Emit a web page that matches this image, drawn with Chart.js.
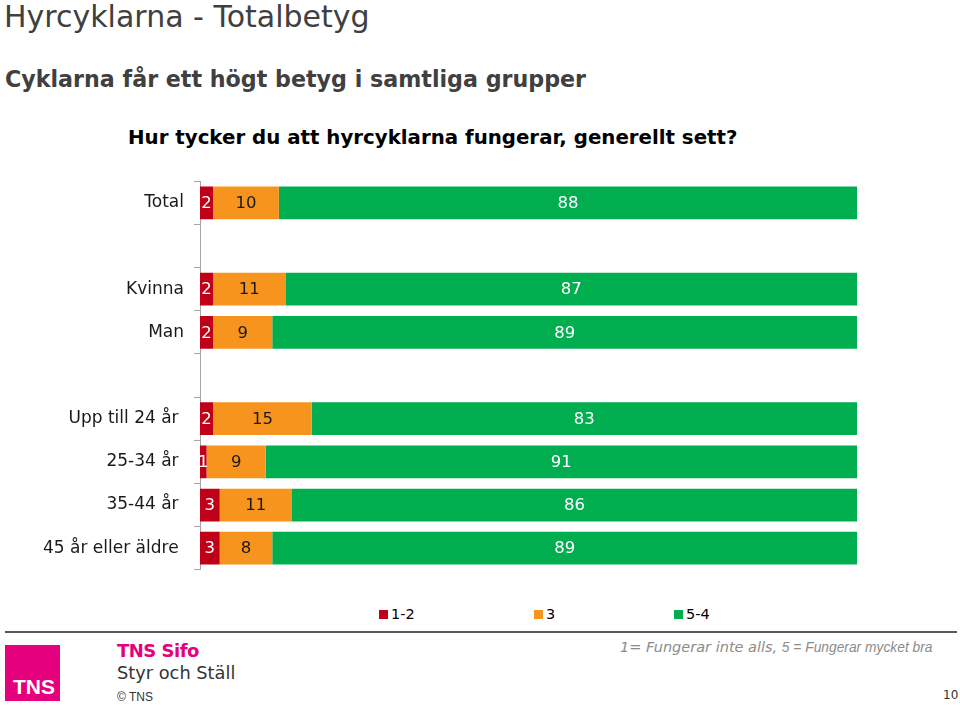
<!DOCTYPE html>
<html><head><meta charset="utf-8">
<script src="https://cdn.jsdelivr.net/npm/chart.js@4"></script>
<style>
html,body{margin:0;padding:0;background:#fff;width:960px;height:705px;overflow:hidden;position:relative;font-family:"DejaVu Sans",Verdana,sans-serif;}
.abs{position:absolute;white-space:nowrap;}
#title{left:4px;top:-1px;font-size:30px;color:#404040;}
#sub{left:5px;top:66px;font-size:22.2px;font-weight:bold;color:#404040;}
#q{left:128px;top:126px;font-size:19.8px;font-weight:bold;color:#000;}
#wrap{position:absolute;left:0;top:161px;width:960px;height:429px;}
#hr{position:absolute;left:5px;top:631px;width:952px;height:2px;background:#5a5a5a;}
#logo{position:absolute;left:5px;top:645px;width:55px;height:56px;background:#e5007d;}
#logo span{position:absolute;left:8px;bottom:2px;color:#fff;font:bold 21px "Liberation Sans",Arial,sans-serif;}
#sifo{left:117px;top:640px;font:bold 18px "DejaVu Sans",sans-serif;color:#e5007d;letter-spacing:-0.5px;}
#styr{left:117px;top:662px;font-size:17.8px;color:#333;}
#copy{left:117px;top:690px;font:12px "Liberation Sans",Arial,sans-serif;color:#333;}
#scale{left:620px;top:637px;color:#8c8c8c;font-style:italic;}
#scale .a{font-size:14.5px;font-family:"DejaVu Sans",sans-serif;}
#scale .b{font-size:13.8px;font-family:"Liberation Sans",Arial,sans-serif;}
#pg{left:943px;top:688px;font-size:12px;color:#333;}
.leg{position:absolute;top:606px;font-size:14.5px;color:#000;}
.leg i{display:inline-block;width:9px;height:9px;margin-right:3px;vertical-align:0px;}
</style></head>
<body>
<div class="abs" id="title">Hyrcyklarna - Totalbetyg</div>
<div class="abs" id="sub">Cyklarna får ett högt betyg i samtliga grupper</div>
<div class="abs" id="q">Hur tycker du att hyrcyklarna fungerar, generellt sett?</div>
<div id="wrap"><canvas id="c" width="960" height="429"></canvas></div>
<div class="leg" style="left:379px"><i style="background:#c00018"></i>1-2</div>
<div class="leg" style="left:534px"><i style="background:#f7941d"></i>3</div>
<div class="leg" style="left:674px"><i style="background:#00ae50"></i>5-4</div>
<div id="hr"></div>
<div id="logo"><span>TNS</span></div>
<div class="abs" id="sifo">TNS Sifo</div>
<div class="abs" id="styr">Styr och Ställ</div>
<div class="abs" id="copy">© TNS</div>
<div class="abs" id="scale"><span class="a">1= Fungerar inte alls, </span><span class="b">5 = Fungerar mycket bra</span></div>
<div class="abs" id="pg">10</div>
<script>
const categories = ["Total", "", "Kvinna", "Man", "", "Upp till 24 år ", "25-34 år ", "35-44 år ", "45 år eller äldre "];
const seriesNames = ["1-2", "3", "5-4"];
const low = [2, null, 2, 2, null, 2, 1, 3, 3];
const mid = [10, null, 11, 9, null, 15, 9, 11, 8];
const high = [88, null, 87, 89, null, 83, 91, 86, 89];
const colors = ["#c00018", "#f7941d", "#00ae50"];
const labelColors = ["#ffffff", "#1a1a1a", "#ffffff"];

const segLabels = {
  id: 'segLabels',
  afterDatasetsDraw(chart) {
    const ctx = chart.ctx;
    const right = chart.chartArea.right;
    chart.data.datasets.forEach((ds, di) => {
      const meta = chart.getDatasetMeta(di);
      meta.data.forEach((bar, i) => {
        const v = ds.data[i];
        if (v == null) return;
        const p = bar.getProps(['x', 'y', 'base'], true);
        const cx = (Math.min(p.x, right) + p.base) / 2;
        ctx.save();
        ctx.fillStyle = labelColors[di];
        ctx.font = '16.5px "DejaVu Sans", Verdana, sans-serif';
        ctx.textAlign = 'center';
        ctx.textBaseline = 'middle';
        ctx.fillText(String(v), cx, p.y + 1);
        ctx.restore();
      });
    });
  }
};

new Chart(document.getElementById('c'), {
  type: 'bar',
  data: {
    labels: categories,
    datasets: [low, mid, high].map((d, i) => ({
      label: seriesNames[i], data: d, backgroundColor: colors[i], borderWidth: 0,
      categoryPercentage: 1, barPercentage: 0.76
    }))
  },
  options: {
    indexAxis: 'y',
    responsive: false,
    animation: false,
    layout: { padding: { left: 0, right: 103, top: 0, bottom: 0 } },
    plugins: { legend: { display: false }, tooltip: { enabled: false } },
    scales: {
      x: { stacked: true, min: 0, max: 100, display: false },
      y: {
        stacked: true,
        afterFit(s) { s.width = 200; },
        grid: { drawOnChartArea: false, drawTicks: true, tickLength: 6, color: '#a6a6a6', offset: true },
        border: { display: true, color: '#a6a6a6', width: 1 },
        ticks: { color: '#1a1a1a', padding: 10, font: { family: '"DejaVu Sans", Verdana, sans-serif', size: 17 }, autoSkip: false }
      }
    }
  },
  plugins: [segLabels]
});
</script>
</body></html>
